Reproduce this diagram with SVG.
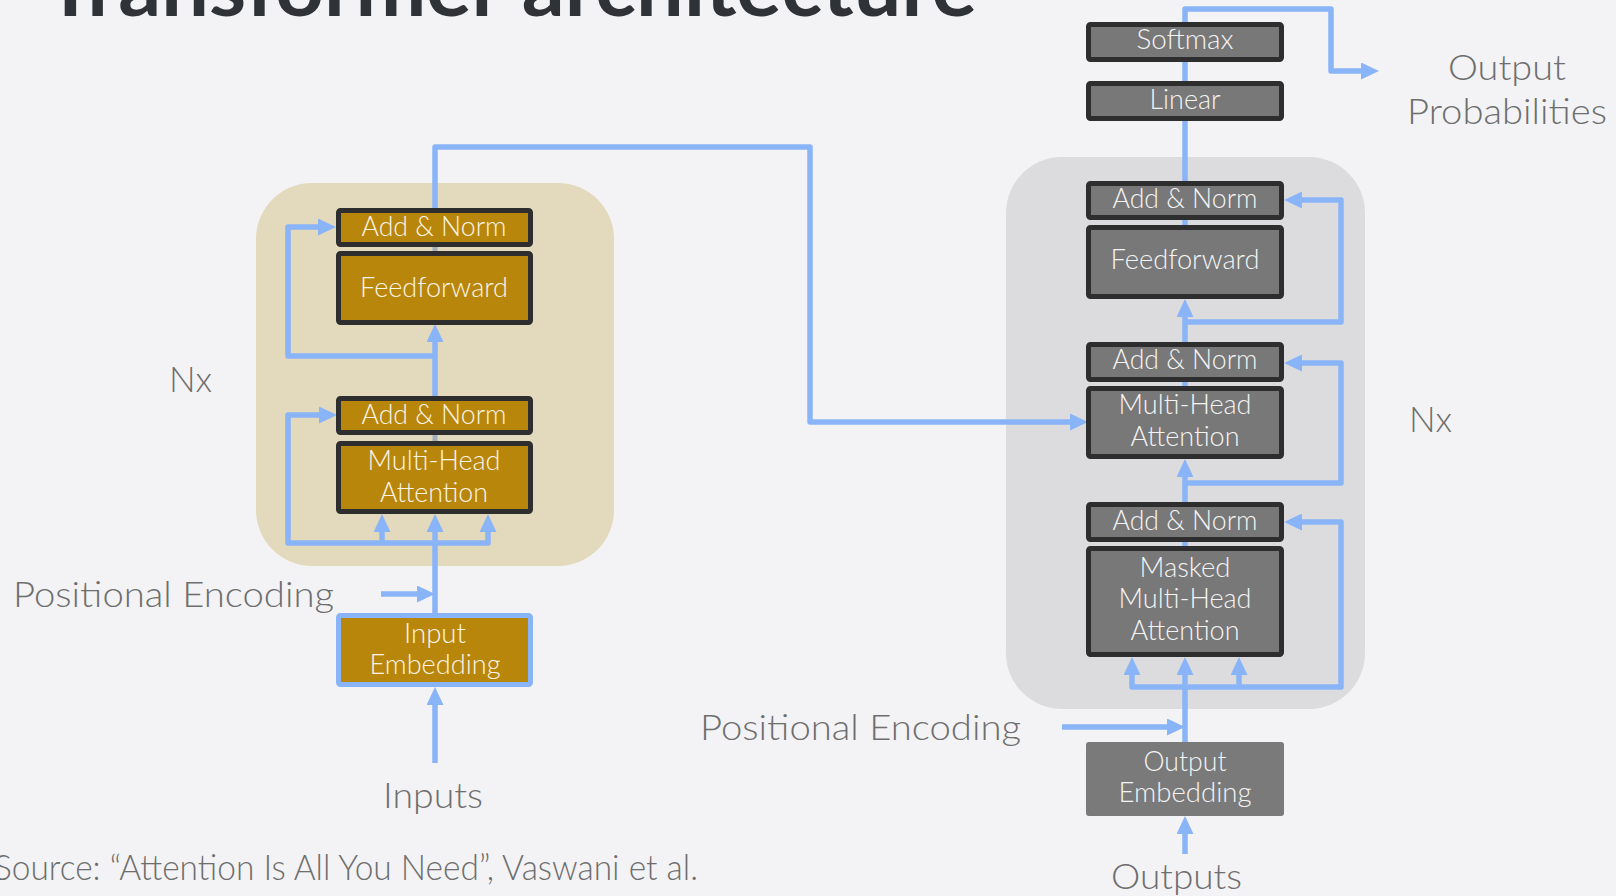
<svg xmlns="http://www.w3.org/2000/svg" width="1616" height="896" viewBox="0 0 1616 896">
<style>
.lbl{font-family:Lato,"Open Sans","Liberation Sans",sans-serif;font-weight:300;fill:#6e6e6e;font-size:36px}
.bt{font-family:Lato,"Open Sans","Liberation Sans",sans-serif;font-weight:300;font-size:27px;text-anchor:middle}
.enc{fill:#b8860b;stroke:#2e2e2e;stroke-width:5}
.dec{fill:#787878;stroke:#2e2e2e;stroke-width:5}
.et{fill:#fbf5e8}
.dt{fill:#f4f4f4}
.c{fill:none;stroke:#8ab4f8;stroke-width:5.5;stroke-linejoin:round}
.ca{fill:none;stroke:#8ab4f8;stroke-width:5.5;stroke-linejoin:round;marker-end:url(#ah)}
.g{fill:none;stroke:#a5aebc;stroke-width:5}
</style>
<defs>
<marker id="ah" viewBox="0 0 18 17" refX="8" refY="8.5" markerWidth="18" markerHeight="17" markerUnits="userSpaceOnUse" orient="auto">
<path d="M0,0 L18,8.5 L0,17 Z" fill="#8ab4f8"/>
</marker>
</defs>
<rect width="1616" height="896" fill="#f3f3f5"/>
<text x="45" y="16" font-family="Lato,'Liberation Sans',sans-serif" font-weight="700" font-size="80" fill="#2f3338" textLength="932" lengthAdjust="spacingAndGlyphs">Transformer architecture</text>

<g id="encoder-bg"><rect x="256" y="183" width="358" height="383" rx="56" fill="#e3d9bc"/></g>
<g id="decoder-bg"><rect x="1006" y="157" width="359" height="552" rx="56" fill="#dcdcde"/></g>

<g id="connectors">
<path class="ca" d="M435,763 V697"/>
<path class="ca" d="M435,613 V524"/>
<path class="ca" d="M381,594 H425"/>
<path class="ca" d="M435,543 H288 V415 H327"/>
<path class="ca" d="M435,543 H488 V524"/>
<path class="ca" d="M382,543 V524"/>
<path class="ca" d="M435,396 V334"/>
<path class="ca" d="M435,356 H288 V227 H326"/>
<path class="ca" d="M435,208 V147 H810 V422 H1078"/>
<path class="g" d="M435,246 V252 M435,434 V442"/>
<path class="ca" d="M1185,854 V826"/>
<path class="ca" d="M1185,742 V667"/>
<path class="ca" d="M1062,727 H1175"/>
<path class="ca" d="M1185,687 H1132 V667"/>
<path class="ca" d="M1239,687 V667"/>
<path class="ca" d="M1185,687 H1341 V522 H1294"/>
<path class="ca" d="M1185,502 V469"/>
<path class="ca" d="M1185,483 H1341 V363 H1294"/>
<path class="ca" d="M1185,342 V309"/>
<path class="ca" d="M1185,322 H1341 V200 H1294"/>
<path class="c" d="M1185,181 V120"/>
<path class="c" d="M1185,82 V61"/>
<path class="ca" d="M1185,22 V9 H1331 V71 H1369"/>
<path class="c" d="M1185,219 V226 M1185,381 V387 M1185,541 V547"/>
</g>

<g id="enc-addnorm2"><rect class="enc" x="338.5" y="210.5" width="192" height="34" rx="2"/><text class="bt et" x="434" y="236" textLength="145" lengthAdjust="spacingAndGlyphs">Add &amp; Norm</text></g>
<g id="enc-feedforward"><rect class="enc" x="338.5" y="253.5" width="192" height="69" rx="2"/><text class="bt et" x="434" y="297" textLength="148" lengthAdjust="spacingAndGlyphs">Feedforward</text></g>
<g id="enc-addnorm1"><rect class="enc" x="338.5" y="398.5" width="192" height="34" rx="2"/><text class="bt et" x="434" y="424" textLength="145" lengthAdjust="spacingAndGlyphs">Add &amp; Norm</text></g>
<g id="enc-mha"><rect class="enc" x="338.5" y="443.5" width="192" height="68" rx="2"/><text class="bt et" x="434" y="470" textLength="133" lengthAdjust="spacingAndGlyphs">Multi-Head</text><text class="bt et" x="434" y="502" textLength="108" lengthAdjust="spacingAndGlyphs">Attention</text></g>
<g id="input-embedding"><rect x="338.5" y="615.5" width="192" height="69" rx="2" fill="#b8860b" stroke="#8ab4f8" stroke-width="5"/><text class="bt et" x="435" y="643" textLength="62" lengthAdjust="spacingAndGlyphs">Input</text><text class="bt et" x="435" y="674" textLength="131" lengthAdjust="spacingAndGlyphs">Embedding</text></g>

<g id="softmax"><rect class="dec" x="1088.5" y="24.5" width="193" height="35" rx="2"/><text class="bt dt" x="1185" y="49" textLength="97" lengthAdjust="spacingAndGlyphs">Softmax</text></g>
<g id="linear"><rect class="dec" x="1088.5" y="83.5" width="193" height="35" rx="2"/><text class="bt dt" x="1185" y="109" textLength="71" lengthAdjust="spacingAndGlyphs">Linear</text></g>
<g id="dec-addnorm3"><rect class="dec" x="1088.5" y="183.5" width="193" height="34" rx="2"/><text class="bt dt" x="1185" y="208" textLength="145" lengthAdjust="spacingAndGlyphs">Add &amp; Norm</text></g>
<g id="dec-feedforward"><rect class="dec" x="1088.5" y="227.5" width="193" height="69" rx="2"/><text class="bt dt" x="1185" y="269" textLength="149" lengthAdjust="spacingAndGlyphs">Feedforward</text></g>
<g id="dec-addnorm2"><rect class="dec" x="1088.5" y="344.5" width="193" height="35" rx="2"/><text class="bt dt" x="1185" y="369" textLength="145" lengthAdjust="spacingAndGlyphs">Add &amp; Norm</text></g>
<g id="dec-mha"><rect class="dec" x="1088.5" y="388.5" width="193" height="68" rx="2"/><text class="bt dt" x="1185" y="414" textLength="133" lengthAdjust="spacingAndGlyphs">Multi-Head</text><text class="bt dt" x="1185" y="446" textLength="109" lengthAdjust="spacingAndGlyphs">Attention</text></g>
<g id="dec-addnorm1"><rect class="dec" x="1088.5" y="504.5" width="193" height="35" rx="2"/><text class="bt dt" x="1185" y="530" textLength="145" lengthAdjust="spacingAndGlyphs">Add &amp; Norm</text></g>
<g id="dec-masked-mha"><rect class="dec" x="1088.5" y="548.5" width="193" height="106" rx="2"/><text class="bt dt" x="1185" y="577" textLength="91" lengthAdjust="spacingAndGlyphs">Masked</text><text class="bt dt" x="1185" y="608" textLength="133" lengthAdjust="spacingAndGlyphs">Multi-Head</text><text class="bt dt" x="1185" y="640" textLength="109" lengthAdjust="spacingAndGlyphs">Attention</text></g>
<g id="output-embedding"><rect x="1086" y="742" width="198" height="74" rx="3" fill="#7a7a7a"/><text class="bt dt" x="1185" y="771" textLength="83" lengthAdjust="spacingAndGlyphs">Output</text><text class="bt dt" x="1185" y="802" textLength="133" lengthAdjust="spacingAndGlyphs">Embedding</text></g>

<g id="labels">
<text class="lbl" x="13" y="607" textLength="321" lengthAdjust="spacingAndGlyphs">Positional Encoding</text>
<text class="lbl" x="383" y="808" textLength="100" lengthAdjust="spacingAndGlyphs">Inputs</text>
<text class="lbl" x="-6" y="880" font-size="31" textLength="704" lengthAdjust="spacingAndGlyphs">Source: “Attention Is All You Need”, Vaswani et al.</text>
<text class="lbl" x="700" y="740" textLength="321" lengthAdjust="spacingAndGlyphs">Positional Encoding</text>
<text class="lbl" x="1111" y="889" textLength="131" lengthAdjust="spacingAndGlyphs">Outputs</text>
<text class="lbl" x="1448" y="80" textLength="118" lengthAdjust="spacingAndGlyphs">Output</text>
<text class="lbl" x="1407" y="124" textLength="200" lengthAdjust="spacingAndGlyphs">Probabilities</text>
<text class="lbl" x="169" y="392" textLength="43" lengthAdjust="spacingAndGlyphs">Nx</text>
<text class="lbl" x="1409" y="432" textLength="43" lengthAdjust="spacingAndGlyphs">Nx</text>
</g>
</svg>
